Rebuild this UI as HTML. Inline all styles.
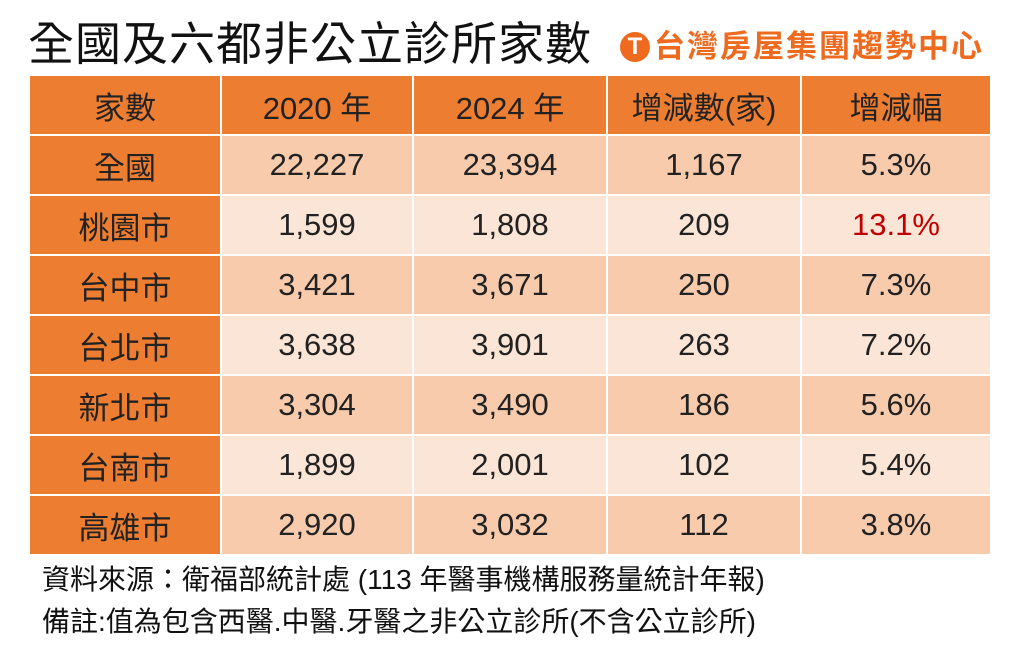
<!DOCTYPE html>
<html><head><meta charset="utf-8"><style>
body{margin:0;width:1022px;height:646px;background:#fff;font-family:"Liberation Sans","Noto Sans CJK TC",sans-serif;position:relative;overflow:hidden}
.title{position:absolute;left:28px;top:14px;font-size:46px;color:#111;line-height:60px;letter-spacing:1px}
.logo{position:absolute;left:620px;top:29px;font-size:31px;font-weight:bold;color:#ED6A1F;line-height:36px;display:flex;align-items:center;white-space:nowrap;letter-spacing:2px}
.logo .ic{width:30px;height:30px;border-radius:50%;background:#ED6A1F;color:#fff;font-size:24px;text-align:center;line-height:30px;margin-right:4px;letter-spacing:0}
table{position:absolute;left:28px;top:74px;border-collapse:collapse;width:964px}
td{border:2px solid #fff;height:58px;text-align:center;font-size:31px;color:#222;padding:0}
td:nth-child(1){width:190px}
td:nth-child(2){width:190px}
td:nth-child(3){width:192px}
td:nth-child(4){width:192px}
tr.h td,td:first-child{background:#ED7D31}
tr.a td:not(:first-child){background:#F8CBAD}
tr.b td:not(:first-child){background:#FBE5D6}
.red{color:#C00000}
.note{position:absolute;left:42px;font-size:28px;color:#111;line-height:32px;white-space:nowrap}
</style></head><body>
<div class="title">全國及六都非公立診所家數</div>
<div class="logo"><span class="ic">T</span>台灣房屋集團趨勢中心</div>
<table>
<tr class="h"><td>家數</td><td>2020 年</td><td>2024 年</td><td>增減數(家)</td><td>增減幅</td></tr>
<tr class="a"><td>全國</td><td>22,227</td><td>23,394</td><td>1,167</td><td>5.3%</td></tr>
<tr class="b"><td>桃園市</td><td>1,599</td><td>1,808</td><td>209</td><td class="red">13.1%</td></tr>
<tr class="a"><td>台中市</td><td>3,421</td><td>3,671</td><td>250</td><td>7.3%</td></tr>
<tr class="b"><td>台北市</td><td>3,638</td><td>3,901</td><td>263</td><td>7.2%</td></tr>
<tr class="a"><td>新北市</td><td>3,304</td><td>3,490</td><td>186</td><td>5.6%</td></tr>
<tr class="b"><td>台南市</td><td>1,899</td><td>2,001</td><td>102</td><td>5.4%</td></tr>
<tr class="a"><td>高雄市</td><td>2,920</td><td>3,032</td><td>112</td><td>3.8%</td></tr>
</table>
<div class="note" style="top:564px">資料來源：衛福部統計處 (113 年醫事機構服務量統計年報)</div>
<div class="note" style="top:606px">備註:值為包含西醫.中醫.牙醫之非公立診所(不含公立診所)</div>
</body></html>
